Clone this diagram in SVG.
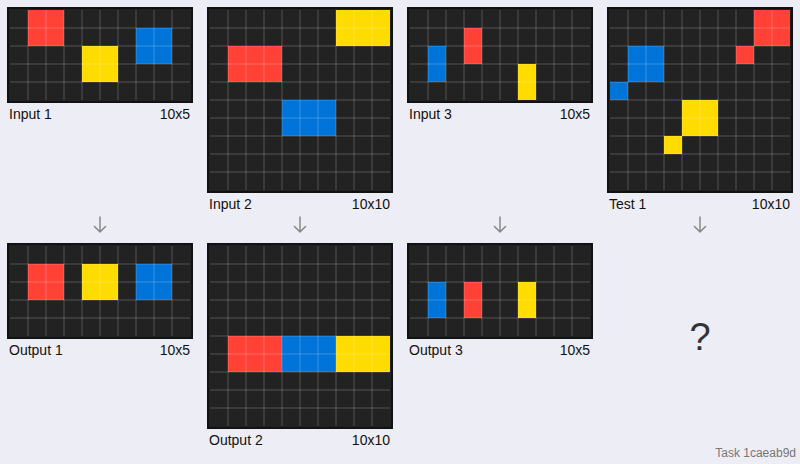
<svg xmlns="http://www.w3.org/2000/svg" xmlns:xlink="http://www.w3.org/1999/xlink" width="800" height="464" viewBox="0 0 800 464">
<style>
.frame{fill:#222;stroke:#111;stroke-width:2}
.r{fill:#FF4136}.y{fill:#FFDC00}.b{fill:#0074D9}
.grid{fill:none;stroke:#fff;stroke-opacity:0.22;stroke-width:1}
.lbl{font-family:"Liberation Sans",Arial,sans-serif;font-size:14px;fill:#111}
.end{text-anchor:end}
.arrow{fill:none;stroke:#888;stroke-width:1.5;stroke-linecap:round;stroke-linejoin:round}
</style>
<defs>
<path id="g5" d="M18 0V90M36 0V90M54 0V90M72 0V90M90 0V90M108 0V90M126 0V90M144 0V90M162 0V90M0 18H180M0 36H180M0 54H180M0 72H180"/>
<path id="g10" d="M18 0V180M36 0V180M54 0V180M72 0V180M90 0V180M108 0V180M126 0V180M144 0V180M162 0V180M0 18H180M0 36H180M0 54H180M0 72H180M0 90H180M0 108H180M0 126H180M0 144H180M0 162H180"/>
</defs>
<rect x="0" y="0" width="800" height="464" fill="#EDEDF5"/>

<g id="input1">
<rect class="frame" x="8" y="8" width="184" height="94"/>
<rect class="r" x="28" y="10" width="36" height="36"/>
<rect class="y" x="82" y="46" width="36" height="36"/>
<rect class="b" x="136" y="28" width="36" height="36"/>
<use href="#g5" class="grid" x="10" y="10"/>
<text class="lbl" x="9" y="119">Input 1</text>
<text class="lbl end" x="190" y="119">10x5</text>
</g>

<g id="input2">
<rect class="frame" x="208" y="8" width="184" height="184"/>
<rect class="y" x="336" y="10" width="54" height="36"/>
<rect class="r" x="228" y="46" width="54" height="36"/>
<rect class="b" x="282" y="100" width="54" height="36"/>
<use href="#g10" class="grid" x="210" y="10"/>
<text class="lbl" x="209" y="209">Input 2</text>
<text class="lbl end" x="390" y="209">10x10</text>
</g>

<g id="input3">
<rect class="frame" x="408" y="8" width="184" height="94"/>
<rect class="b" x="428" y="46" width="18" height="36"/>
<rect class="r" x="464" y="28" width="18" height="36"/>
<rect class="y" x="518" y="64" width="18" height="36"/>
<use href="#g5" class="grid" x="410" y="10"/>
<text class="lbl" x="409" y="119">Input 3</text>
<text class="lbl end" x="590" y="119">10x5</text>
</g>

<g id="test1">
<rect class="frame" x="608" y="8" width="184" height="184"/>
<rect class="r" x="754" y="10" width="36" height="36"/>
<rect class="r" x="736" y="46" width="18" height="18"/>
<rect class="b" x="628" y="46" width="36" height="36"/>
<rect class="b" x="610" y="82" width="18" height="18"/>
<rect class="y" x="682" y="100" width="36" height="36"/>
<rect class="y" x="664" y="136" width="18" height="18"/>
<use href="#g10" class="grid" x="610" y="10"/>
<text class="lbl" x="609" y="209">Test 1</text>
<text class="lbl end" x="790" y="209">10x10</text>
</g>

<g id="output1">
<rect class="frame" x="8" y="244" width="184" height="94"/>
<rect class="r" x="28" y="264" width="36" height="36"/>
<rect class="y" x="82" y="264" width="36" height="36"/>
<rect class="b" x="136" y="264" width="36" height="36"/>
<use href="#g5" class="grid" x="10" y="246"/>
<text class="lbl" x="9" y="355">Output 1</text>
<text class="lbl end" x="190" y="355">10x5</text>
</g>

<g id="output2">
<rect class="frame" x="208" y="244" width="184" height="184"/>
<rect class="r" x="228" y="336" width="54" height="36"/>
<rect class="b" x="282" y="336" width="54" height="36"/>
<rect class="y" x="336" y="336" width="54" height="36"/>
<use href="#g10" class="grid" x="210" y="246"/>
<text class="lbl" x="209" y="445">Output 2</text>
<text class="lbl end" x="390" y="445">10x10</text>
</g>

<g id="output3">
<rect class="frame" x="408" y="244" width="184" height="94"/>
<rect class="b" x="428" y="282" width="18" height="36"/>
<rect class="r" x="464" y="282" width="18" height="36"/>
<rect class="y" x="518" y="282" width="18" height="36"/>
<use href="#g5" class="grid" x="410" y="246"/>
<text class="lbl" x="409" y="355">Output 3</text>
<text class="lbl end" x="590" y="355">10x5</text>
</g>

<g id="test-output">
<text x="700" y="350" text-anchor="middle" font-family="'Liberation Sans',Arial,sans-serif" font-size="38" fill="#333">?</text>
</g>

<g id="connectors">
<path class="arrow" d="M100 217V232M94.5 226.5L100 232L105.5 226.5"/>
<path class="arrow" d="M300 217V232M294.5 226.5L300 232L305.5 226.5"/>
<path class="arrow" d="M500 217V232M494.5 226.5L500 232L505.5 226.5"/>
<path class="arrow" d="M700 217V232M694.5 226.5L700 232L705.5 226.5"/>
</g>

<text x="796" y="457" text-anchor="end" font-family="'Liberation Sans',Arial,sans-serif" font-size="12" fill="#777">Task 1caeab9d</text>
</svg>
